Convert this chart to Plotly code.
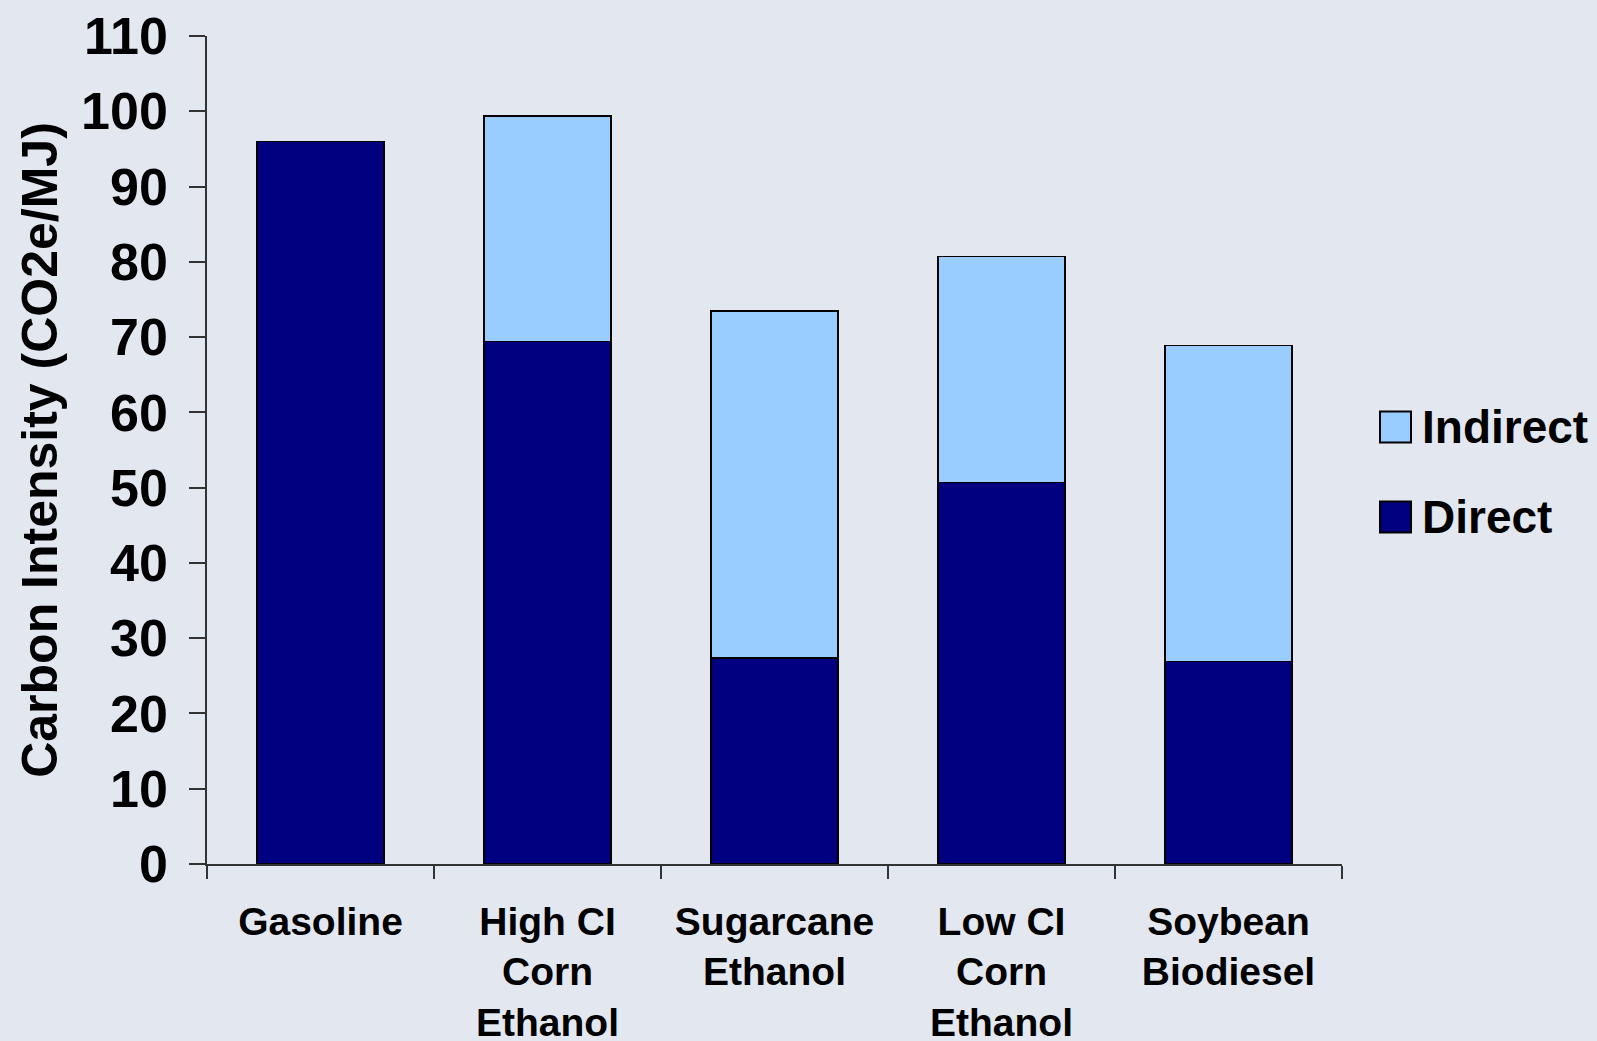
import plotly.graph_objects as go

# Fuel pathways and their carbon intensity components (gCO2e/MJ)
categories = [
    "Gasoline",
    "High CI<br>Corn<br>Ethanol",
    "Sugarcane<br>Ethanol",
    "Low CI<br>Corn<br>Ethanol",
    "Soybean<br>Biodiesel",
]
direct = [96.0, 69.4, 27.4, 50.7, 26.9]
indirect = [0.0, 30.0, 46.1, 30.0, 42.0]
y_ticks = list(range(0, 111, 10))

W, H = 1597, 1041
L, R, T, B = 207, 255, 36, 177
BG = "#E3E8F0"
DIRECT_COLOR = "#000080"
INDIRECT_COLOR = "#99CCFF"
FONT = "Arial, 'Liberation Sans', sans-serif"

fig = go.Figure()
fig.add_trace(go.Bar(
    name="Direct", x=categories, y=direct,
    marker=dict(color=DIRECT_COLOR, line=dict(color="#000000", width=1.6)),
    width=0.56, showlegend=False,
))
fig.add_trace(go.Bar(
    name="Indirect", x=categories, y=indirect,
    marker=dict(color=INDIRECT_COLOR, line=dict(color="#000000", width=1.6)),
    width=0.56, showlegend=False,
))

plot_w = W - L - R
plot_h = H - T - B


def px_x(p):
    return (p - L) / plot_w


def px_y(p):
    return (H - B - p) / plot_h


# Legend drawn as boxed swatches with labels to the right of the plot
legend_items = [("Indirect", INDIRECT_COLOR, 427), ("Direct", DIRECT_COLOR, 517)]
sw = 31
for label, color, cy in legend_items:
    fig.add_shape(
        type="rect", xref="paper", yref="paper",
        x0=px_x(1380), x1=px_x(1380 + sw),
        y0=px_y(cy + sw / 2), y1=px_y(cy - sw / 2),
        fillcolor=color, line=dict(color="#000000", width=2),
    )
    fig.add_annotation(
        xref="paper", yref="paper", x=px_x(1420), y=px_y(cy),
        xanchor="left", yanchor="middle", showarrow=False, text=label,
        font=dict(family=FONT, size=46, color="#000000", weight="bold"),
    )

fig.update_layout(
    width=W, height=H,
    margin=dict(l=L, r=R, t=T, b=B, autoexpand=False),
    paper_bgcolor=BG, plot_bgcolor=BG,
    barmode="stack", bargap=0.44,
    font=dict(family=FONT, color="#000000"),
)
fig.update_xaxes(
    showline=True, linecolor="#333333", linewidth=1.5,
    ticks="outside", tickson="boundaries", ticklen=13, tickcolor="#333333", tickwidth=1.5,
    tickfont=dict(family=FONT, size=39, color="#000000", weight="bold"),
    ticklabelstandoff=22,
    showgrid=False, zeroline=False, automargin=False,
)
fig.update_yaxes(
    range=[0, 110], tickvals=y_ticks,
    showline=True, linecolor="#333333", linewidth=1.5,
    ticks="outside", ticklen=16, tickcolor="#333333", tickwidth=1.5,
    tickfont=dict(family=FONT, size=52, color="#000000", weight="bold"),
    ticklabelstandoff=11,
    showgrid=False, zeroline=False, automargin=False,
    title=dict(text="Carbon Intensity (CO2e/MJ)", standoff=8,
               font=dict(family=FONT, size=50, color="#000000", weight="bold")),
)

fig.write_html("out.html")
